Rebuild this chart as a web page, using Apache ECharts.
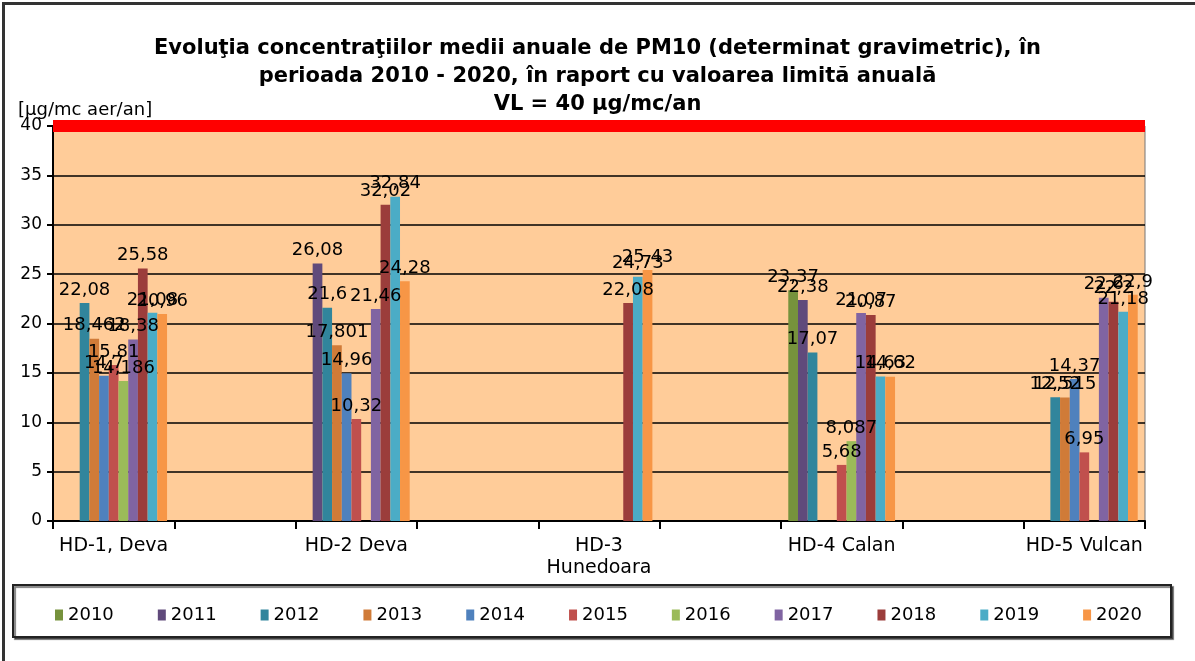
<!DOCTYPE html>
<html>
<head>
<meta charset="utf-8">
<script src="https://cdn.jsdelivr.net/npm/echarts@6/dist/echarts.min.js"></script>
<style>
	html, body { margin: 0; padding: 0; background: #fff; }
	#frame { position: absolute; left: 2px; top: 2px; width: 1193px; height: 659px; border-top: 3px solid #333; border-left: 3px solid #333; }
	#chart { position: absolute; left: 0; top: 0; width: 1195px; height: 661px; }
</style>
</head>
<body>
<div id="frame"></div>
<div id="chart"></div>
<script>
let stations = ['HD-1, Deva', 'HD-2 Deva', 'HD-3\nHunedoara', 'HD-4 Calan', 'HD-5 Vulcan']
let years = ['2010', '2011', '2012', '2013', '2014', '2015', '2016', '2017', '2018', '2019', '2020']
let color = ['#76923c', '#604a7b', '#31859c', '#d07b38', '#4f81bd', '#c0504d', '#9bbb59', '#8064a2', '#9b3d3b', '#4bacc6', '#f79646']

// valori pe statii: HD-1, HD-2, HD-3, HD-4, HD-5
let v2010 = [null, null, null, 23.37, null]
let v2011 = [null, 26.08, null, 22.38, null]
let v2012 = [22.08, 21.6, null, 17.07, 12.52]
let v2013 = [18.462, 17.801, null, null, 12.515]
let v2014 = [14.7, 14.96, null, null, 14.37]
let v2015 = [15.81, 10.32, null, 5.68, 6.95]
let v2016 = [14.186, null, null, 8.087, null]
let v2017 = [18.38, 21.46, null, 21.07, 22.6]
let v2018 = [25.58, 32.02, 22.08, 20.87, 22.2]
let v2019 = [21.08, 32.84, 24.73, 14.63, 21.18]
let v2020 = [20.96, 24.28, 25.43, 14.62, 22.9]
let limitValue = 40
let yTicks = [0, 5, 10, 15, 20, 25, 30, 35, 40]

let values = [v2010, v2011, v2012, v2013, v2014, v2015, v2016, v2017, v2018, v2019, v2020]

// intre statii sunt categorii goale (ca in graficul original)
let categories = []
stations.forEach(function(name, i) {
	categories.push(name)
	if(i < stations.length - 1) categories.push(' '.repeat(i + 1))
})

function spread(arr) {
	let out = []
	arr.forEach(function(v, i) {
		out.push(v)
		if(i < arr.length - 1) out.push(null)
	})
	return out
}

let font = 'DejaVu Sans'
let series = years.map(function(year, index) {
	return {
		name: year,
		type: 'bar',
		barGap: '0%',
		barCategoryGap: '12%',
		itemStyle: { color: color[index] },
		label: {
			show: true,
			position: 'top',
			distance: 4,
			color: '#000',
			fontFamily: font,
			fontSize: 18,
			formatter: function(p) {
				return String(p.value).replace('.', ',')
			}
		},
		data: spread(values[index])
	}
})

series.push({
	name: 'VL',
	type: 'line',
	data: [],
	markLine: {
		silent: true,
		symbol: 'none',
		label: { show: false },
		lineStyle: { color: '#ff0000', width: 12, type: 'solid' },
		data: [{ yAxis: limitValue }]
	}
})

var chart = echarts.init(document.getElementById('chart'));
chart.setOption({
	animation: false,
	textStyle: { fontFamily: font },
	title: [{
		text: 'Evoluţia concentraţiilor medii anuale de PM10 (determinat gravimetric), în\nperioada 2010 - 2020, în raport cu valoarea limită anuală\nVL = 40 µg/mc/an',
		left: 'center',
		top: 30,
		textStyle: {
			fontFamily: font,
			fontSize: 21,
			fontWeight: 'bold',
			lineHeight: 28,
			color: '#000'
		}
	}, {
		text: '[µg/mc aer/an]',
		left: 13,
		top: 96,
		textStyle: {
			fontFamily: font,
			fontSize: 18,
			fontWeight: 'normal',
			color: '#000'
		}
	}],
	graphic: [{
		type: 'rect',
		left: 12,
		top: 584,
		shape: { width: 1158, height: 52 },
		style: {
			fill: '#fff',
			stroke: '#222',
			lineWidth: 2,
			shadowColor: 'rgba(0,0,0,0.5)',
			shadowOffsetX: 2,
			shadowOffsetY: 2,
			shadowBlur: 1
		},
		z: -1
	}],
	legend: {
		data: years,
		left: 50,
		top: 601,
		icon: 'rect',
		itemWidth: 8,
		itemHeight: 11,
		itemGap: 44,
		textStyle: {
			fontFamily: font,
			fontSize: 18,
			color: '#000'
		}
	},
	grid: {
		left: 53,
		right: 50,
		top: 126,
		bottom: 140,
		show: true,
		backgroundColor: '#ffcc99',
		borderColor: '#777',
		borderWidth: 1
	},
	xAxis: {
		type: 'category',
		data: categories,
		axisLine: { lineStyle: { color: '#000', width: 2 } },
		axisTick: { show: true, length: 8, lineStyle: { color: '#000', width: 2 } },
		axisLabel: {
			interval: 0,
			margin: 14,
			color: '#000',
			fontFamily: font,
			fontSize: 19,
			lineHeight: 22
		}
	},
	yAxis: {
		type: 'value',
		min: yTicks[0],
		max: yTicks[yTicks.length - 1],
		interval: 5,
		axisLine: { show: true, lineStyle: { color: '#000', width: 2 } },
		axisTick: { show: true, length: 6, lineStyle: { color: '#000', width: 2 } },
		splitLine: { lineStyle: { color: '#000', width: 1.5 } },
		axisLabel: {
			margin: 11,
			color: '#000',
			fontFamily: font,
			fontSize: 17
		}
	},
	series: series
})
</script>
</body>
</html>
